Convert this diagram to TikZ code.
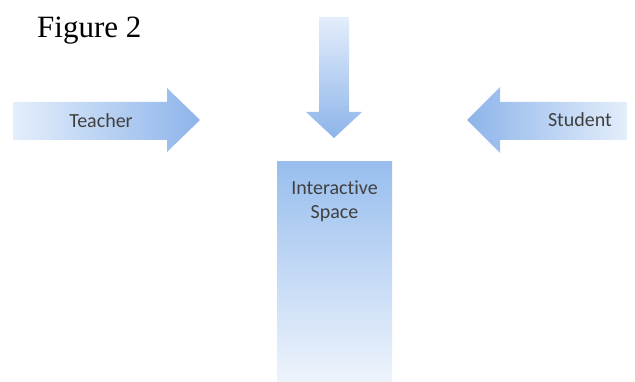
\documentclass[tikz,border=0pt]{standalone}
\usepackage{fontspec}
\setmainfont{Liberation Serif}
\newfontfamily\labelfont[Ligatures={NoCommon}]{Carlito}
\definecolor{arrowdark}{RGB}{141,180,234}
\definecolor{arrowlight}{RGB}{228,238,251}
\definecolor{boxtop}{RGB}{152,190,238}
\definecolor{boxbottom}{RGB}{238,244,252}
\definecolor{labelgray}{RGB}{64,64,64}
\tikzset{
  lbl/.style={font=\labelfont\fontsize{20}{24}\selectfont, text=labelgray, align=center, inner sep=0pt},
}
\begin{document}
\begin{tikzpicture}[x=1pt,y=-1pt]
  \useasboundingbox (0,0) rectangle (635,382);
  % caption
  \node[font=\fontsize{31}{34}\selectfont, anchor=west, inner sep=0pt] (fig) at (37,31) {Figure 2};
  % Teacher arrow (pointing right)
  \shade[left color=arrowlight, right color=arrowdark]
    (13,102) -- (167,102) -- (167,88) -- (200,120) -- (167,152) -- (167,140) -- (13,140) -- cycle;
  \node[lbl] (teacher) at (101,121) {Teacher};
  % arrow from above (pointing down)
  \shade[top color=arrowlight, bottom color=arrowdark]
    (319,17) -- (349,17) -- (349,112) -- (362,112) -- (334,138) -- (306,112) -- (319,112) -- cycle;
  % Student arrow (pointing left)
  \shade[left color=arrowdark, right color=arrowlight]
    (627,102) -- (500,102) -- (500,87) -- (467,120) -- (500,153) -- (500,140) -- (627,140) -- cycle;
  \node[lbl] (student) at (580,120) {Student};
  % interactive space column
  \shade[top color=boxtop, bottom color=boxbottom] (277,162) rectangle (392,382);
  \node[lbl] (space) at (334.5,201) {Interactive\\Space};
\end{tikzpicture}
\end{document}
